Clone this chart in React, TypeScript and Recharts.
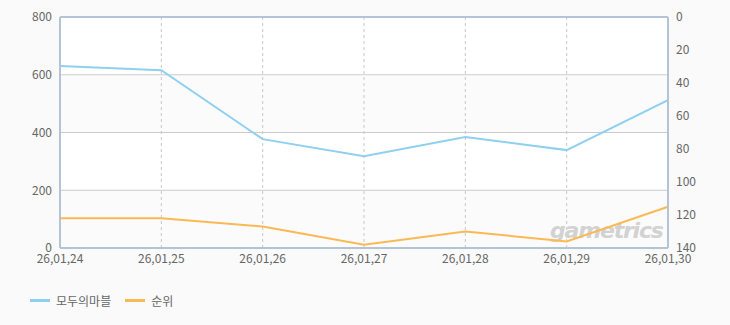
import React from "react";
import {
  ComposedChart,
  Line,
  XAxis,
  YAxis,
  CartesianGrid,
  ReferenceLine,
  Customized,
} from "recharts";

const dates = ["26,01,24", "26,01,25", "26,01,26", "26,01,27", "26,01,28", "26,01,29", "26,01,30"];
const players = [630, 616, 377, 318, 384, 339, 512];
const ranks = [122, 122, 127, 138, 130, 136, 115];
const leftTicks = [0, 200, 400, 600, 800];
const rightTicks = [0, 20, 40, 60, 80, 100, 120, 140];

const seriesName = "모두의마블";
const rankName = "순위";

const data = dates.map((d, i) => ({ date: d, players: players[i], rank: ranks[i] }));

const font = "'Noto Sans CJK KR', 'DejaVu Sans', sans-serif";
const tickStyle = { fontSize: 12, fill: "#666", fontFamily: font };
const borderColor = "#b3c4d6";

// faint site watermark, sits under the lines
const Watermark = () => (
  <text
    x={550}
    y={238}
    fontSize={22}
    fontWeight="bold"
    fontStyle="italic"
    fontFamily="'DejaVu Sans', sans-serif"
    fill="#d2d2d2"
    letterSpacing={-1.2}
  >
    gametrics
  </text>
);

export default function App() {
  return (
    <div style={{ position: "relative", width: 730, height: 325, background: "#fafafa" }}>
      <style>{`body{margin:0}`}</style>
      <ComposedChart
        width={730}
        height={325}
        data={data}
        margin={{ top: 17, right: 0, left: 0, bottom: 57 }}
      >
        <CartesianGrid
          yAxisId="left"
          vertical={false}
          stroke="#cccccc"
          horizontalFill={["#ffffff", "#fbfbfb"]}
          fillOpacity={1}
        />
        <CartesianGrid
          yAxisId="left"
          horizontal={false}
          stroke="#c8c8c8"
          strokeDasharray="3 3"
        />
        <XAxis
          dataKey="date"
          padding={{ left: 0, right: 0 }}
          tick={tickStyle}
          tickLine={false}
          axisLine={{ stroke: borderColor, strokeWidth: 2 }}
          height={20}
          interval={0}
          tickMargin={0}
        />
        <YAxis
          yAxisId="left"
          domain={[0, 800]}
          ticks={leftTicks}
          width={60}
          tick={tickStyle}
          tickLine={false}
          tickMargin={2}
          axisLine={{ stroke: borderColor, strokeWidth: 2 }}
        />
        <YAxis
          yAxisId="right"
          orientation="right"
          domain={[0, 140]}
          ticks={rightTicks}
          reversed
          width={62}
          tick={{ ...tickStyle, textAnchor: "start" }}
          tickLine={false}
          tickMargin={2}
          axisLine={{ stroke: borderColor, strokeWidth: 2 }}
        />
        <ReferenceLine yAxisId="left" y={800} stroke={borderColor} strokeWidth={2} />
        <Customized component={Watermark} />
        <Line
          yAxisId="left"
          type="linear"
          dataKey="players"
          name={seriesName}
          stroke="#8fd0f0"
          strokeWidth={2}
          dot={false}
          isAnimationActive={false}
        />
        <Line
          yAxisId="right"
          type="linear"
          dataKey="rank"
          name={rankName}
          stroke="#fbb955"
          strokeWidth={2}
          dot={false}
          isAnimationActive={false}
        />
      </ComposedChart>
      <div
        style={{
          position: "absolute",
          left: 30,
          top: 292,
          display: "flex",
          alignItems: "center",
          fontFamily: font,
          fontSize: 12,
          color: "#666",
        }}
      >
        <span style={{ width: 20, height: 3, background: "#8fd0f0", marginRight: 6 }} />
        <span style={{ marginRight: 14 }}>{seriesName}</span>
        <span style={{ width: 20, height: 3, background: "#fbb955", marginRight: 6 }} />
        <span>{rankName}</span>
      </div>
    </div>
  );
}
